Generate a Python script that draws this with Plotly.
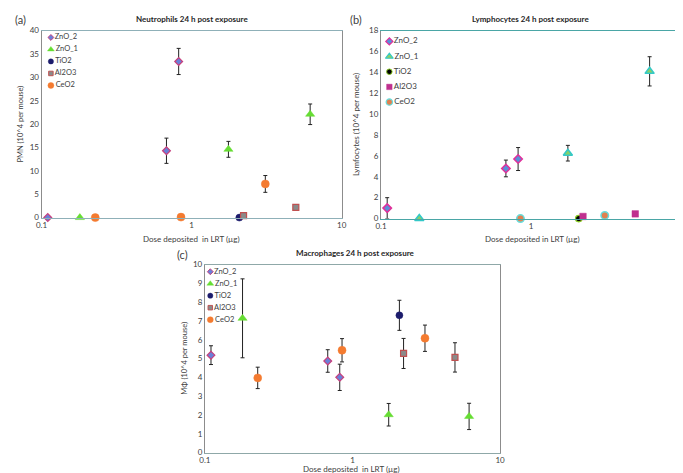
import plotly.graph_objects as go

W, H = 683, 473
FONT = "Lato"

series = ["ZnO_2", "ZnO_1", "TiO2", "Al2O3", "CeO2"]

# Doses deposited in LRT (µg) per series
dose_zno2 = [0.11, 0.68, 0.82]
dose_zno1 = [0.18, 1.76, 6.17]
dose_tio2 = [2.08]
dose_al2o3 = [2.22, 4.95]
dose_ceo2 = [0.228, 0.85, 3.1]

# (a) Neutrophils (PMN, 10^4 per mouse)
pmn_zno2 = [0, 14.3, 33.4]
pmn_zno2_err = [0, 2.7, 2.8]
pmn_zno1 = [0, 14.6, 22.1]
pmn_zno1_err = [0, 1.7, 2.2]
pmn_tio2 = [0]
pmn_tio2_err = [0]
pmn_al2o3 = [0.4, 2.2]
pmn_al2o3_err = [0, 0]
pmn_ceo2 = [0, 0.1, 7.2]
pmn_ceo2_err = [0, 0, 1.8]

# (b) Lymphocytes (10^4 per mouse)
lym_zno2 = [1.0, 4.8, 5.7]
lym_zno2_err = [1.0, 0.8, 1.1]
lym_zno1 = [0, 6.26, 14.1]
lym_zno1_err = [0, 0.75, 1.4]
lym_tio2 = [0]
lym_tio2_err = [0]
lym_al2o3 = [0.2, 0.45]
lym_al2o3_err = [0, 0]
lym_ceo2 = [None, 0, 0.3]
lym_ceo2_err = [0, 0, 0]

# (c) Macrophages (MΦ, 10^4 per mouse)
mac_zno2 = [5.18, 4.87, 4.0]
mac_zno2_err = [0.5, 0.6, 0.7]
mac_zno1 = [7.14, 2.01, 1.92]
mac_zno1_err = [2.1, 0.6, 0.7]
mac_tio2 = [7.3]
mac_tio2_err = [0.8]
mac_al2o3 = [5.27, 5.06]
mac_al2o3_err = [0.8, 0.78]
mac_ceo2 = [3.97, 5.44, 6.08]
mac_ceo2_err = [0.57, 0.62, 0.7]

x_ticks = [0.1, 1, 10]
x_ticktext = ["0.1", "1", "10"]

# marker styles
style_ac = [
    dict(symbol="diamond", color="#6a80d8", line=dict(color="#c8407c", width=1.2), size=6),
    dict(symbol="triangle-up", color="#66dd33", line=dict(color="#66dd33", width=0.5), size=8),
    dict(symbol="circle", color="#1c1c6c", line=dict(color="#1c1c6c", width=0.5), size=7),
    dict(symbol="square", color="#8a8a8a", line=dict(color="#c05050", width=1.2), size=6),
    dict(symbol="circle", color="#f47b30", line=dict(color="#f47b30", width=0.5), size=8),
]
style_b = [
    dict(symbol="diamond", color="#5a8fd8", line=dict(color="#e0309a", width=1.5), size=6.5),
    dict(symbol="triangle-up", color="#88d068", line=dict(color="#33c8c8", width=1.5), size=8),
    dict(symbol="circle", color="#000000", line=dict(color="#88cc22", width=1.2), size=6.5),
    dict(symbol="square", color="#c0308f", line=dict(color="#c0308f", width=0.5), size=6.5),
    dict(symbol="circle", color="#e08050", line=dict(color="#66dddd", width=1.5), size=7.5),
]

doses = [dose_zno2, dose_zno1, dose_tio2, dose_al2o3, dose_ceo2]
pmn = [pmn_zno2, pmn_zno1, pmn_tio2, pmn_al2o3, pmn_ceo2]
pmn_err = [pmn_zno2_err, pmn_zno1_err, pmn_tio2_err, pmn_al2o3_err, pmn_ceo2_err]
lym = [lym_zno2, lym_zno1, lym_tio2, lym_al2o3, lym_ceo2]
lym_err = [lym_zno2_err, lym_zno1_err, lym_tio2_err, lym_al2o3_err, lym_ceo2_err]
mac = [mac_zno2, mac_zno1, mac_tio2, mac_al2o3, mac_ceo2]
mac_err = [mac_zno2_err, mac_zno1_err, mac_tio2_err, mac_al2o3_err, mac_ceo2_err]

fig = go.Figure()


def add_panel(vals, errs, styles, xa, ya):
    for name, d, v, e, st in zip(series, doses, vals, errs, styles):
        fig.add_trace(go.Scatter(
            x=d, y=v, mode="markers", name=name, showlegend=False,
            xaxis=xa, yaxis=ya, cliponaxis=False,
            marker=dict(symbol=st["symbol"], color=st["color"], size=st["size"], line=st["line"]),
            error_y=dict(type="data", array=e, visible=True, color="#222222", thickness=1, width=2),
        ))


add_panel(pmn, pmn_err, style_ac, "x", "y")
add_panel(lym, lym_err, style_b, "x2", "y2")
add_panel(mac, mac_err, style_ac, "x3", "y3")


def add_legend(styles, xa, ya, size_scale, fsize):
    for i, (name, st) in enumerate(zip(series, styles)):
        fig.add_trace(go.Scatter(
            x=[0], y=[i], mode="markers+text", text=[name], textposition="middle right",
            textfont=dict(family=FONT, size=fsize, color="#404040"),
            showlegend=False, xaxis=xa, yaxis=ya, cliponaxis=False, hoverinfo="skip",
            marker=dict(symbol=st["symbol"], color=st["color"], size=st["size"] * size_scale,
                        line=dict(color=st["line"]["color"], width=st["line"]["width"] * 0.8)),
        ))


add_legend(style_ac, "x4", "y4", 0.75, 7.5)
add_legend(style_b, "x5", "y5", 0.85, 8)
add_legend(style_ac, "x6", "y6", 0.75, 7.5)


def dx(p0, p1):
    return [p0 / W, p1 / W]


def dy(top, bottom):
    return [1 - bottom / H, 1 - top / H]


tickfont = dict(family=FONT, size=8, color="#404040")


def xaxis(dom, anchor, linecolor):
    return dict(domain=dom, anchor=anchor, type="log", range=[-1, 1], tickvals=x_ticks,
                ticktext=x_ticktext, showgrid=False, zeroline=False, showline=True,
                linecolor=linecolor, linewidth=1, mirror=True, ticks="", tickfont=tickfont,
                fixedrange=True)


def yaxis(dom, anchor, rng, dtick):
    return dict(domain=dom, anchor=anchor, range=rng, dtick=dtick, showgrid=False,
                zeroline=False, showline=True, linecolor="#8c8c8c", linewidth=1, mirror=True,
                ticks="", tickfont=tickfont, fixedrange=True)


def legax(dom, anchor):
    return dict(domain=dom, anchor=anchor, range=[0, 1], visible=False, fixedrange=True)


def legay(dom, anchor):
    return dict(domain=dom, anchor=anchor, range=[4, 0], visible=False, fixedrange=True)


layout = dict(
    width=W, height=H, margin=dict(l=0, r=0, t=0, b=0),
    paper_bgcolor="white", plot_bgcolor="rgba(0,0,0,0)", showlegend=False,
    font=dict(family=FONT, color="#404040"),
    xaxis=xaxis(dx(28, 333), "y", "#8fb0b8"),
    yaxis=yaxis(dy(18, 209), "x", [0, 40], 5),
    xaxis2=xaxis(dx(373, 678), "y2", "#4aa6a6"),
    yaxis2=yaxis(dy(18, 210), "x2", [0, 18], 2),
    xaxis3=xaxis(dx(194, 494), "y3", "#8fa8a8"),
    yaxis3=yaxis(dy(257, 449), "x3", [0, 10], 1),
    xaxis4=legax(dx(37.5, 100), "y4"),
    yaxis4=legay(dy(25, 74), "x4"),
    xaxis5=legax(dx(381.5, 450), "y5"),
    yaxis5=legay(dy(29, 91), "x5"),
    xaxis6=legax(dx(199.5, 260), "y6"),
    yaxis6=legay(dy(264.3, 313.3), "x6"),
)
fig.update_layout(**layout)


def ann(text, px, py, size, bold=False, angle=0):
    fig.add_annotation(
        text=f"<b>{text}</b>" if bold else text, x=px / W, y=1 - py / H,
        xref="paper", yref="paper", xanchor="center", yanchor="middle",
        showarrow=False, textangle=angle,
        font=dict(family=FONT, size=size, color="#262626" if bold else "#404040"),
    )


ann("Neutrophils 24 h post exposure", 181, 6, 8, bold=True)
ann("Lymphocytes 24 h post exposure", 525, 6, 8, bold=True)
ann("Macrophages 24 h post exposure", 347, 245, 8, bold=True)
ann("(a)", 7, 7, 11)
ann("(b)", 348, 7, 11)
ann("(c)", 171, 247, 11)
ann("Dose deposited  in LRT (µg)", 180, 231, 8)
ann("Dose deposited in LRT (µg)", 527, 231, 8)
ann("Dose deposited  in LRT (µg)", 343, 465.5, 8)
ann("PMN (10^4 per mouse)", 7, 113, 7.5, angle=-90)
ann("Lymfocytes (10^4 per mouse)", 347, 114, 8, angle=-90)
ann("MΦ (10^4 per mouse)", 173, 353, 7.5, angle=-90)

fig.write_html("out.html")
